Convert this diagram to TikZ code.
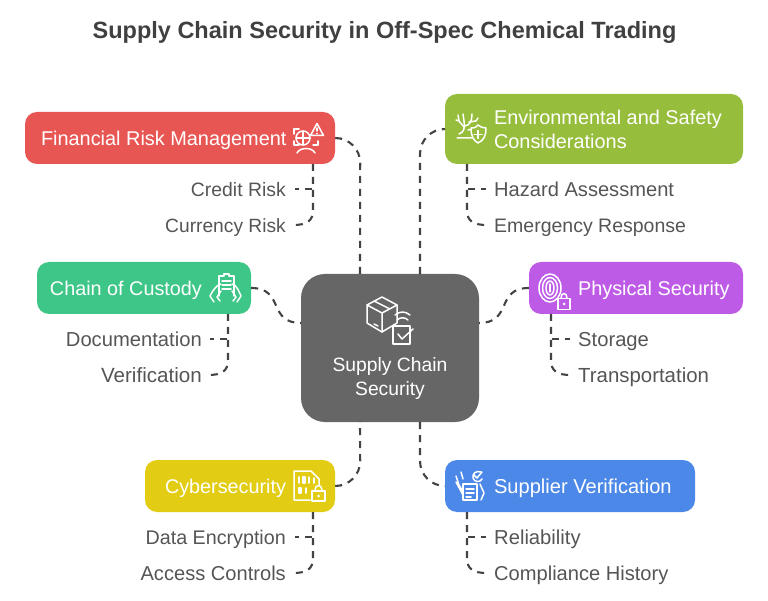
\documentclass[tikz,border=0pt]{standalone}
\usepackage{fontspec}
\setmainfont{Liberation Sans}
\definecolor{cred}{HTML}{E85654}
\definecolor{cgreen}{HTML}{96BD3B}
\definecolor{cteal}{HTML}{3DC687}
\definecolor{cpurple}{HTML}{BE5BE6}
\definecolor{cyellow}{HTML}{E2CD14}
\definecolor{cblue}{HTML}{4C88E8}
\definecolor{cgrey}{HTML}{666666}
\definecolor{ctext}{HTML}{555555}
\definecolor{cline}{HTML}{434343}
\newcommand{\fsz}[1]{\fontsize{#1}{24}\selectfont}
\tikzset{
  x=1pt,y=-1pt,
  boxnode/.style={draw=none,rounded corners=12pt,inner sep=0pt,text=white,text height=16pt,text depth=1pt},
  sublabel/.style={inner sep=0pt,text=ctext,text height=16pt,text depth=1pt},
  conn/.style={draw=cline,line width=2.1pt,dash pattern=on 7pt off 6pt},
  ico/.style={draw=white,line width=1.5pt,line cap=round,line join=round},
}
\begin{document}
\begin{tikzpicture}
\useasboundingbox (0,0) rectangle (768,601);
\node[inner sep=0pt,text=cline!95!black,font=\bfseries\fontsize{23.5}{28}\selectfont] (title) at (384.5,32) {Supply Chain Security in Off-Spec Chemical Trading};

% boxes
\node[boxnode,fill=cred,minimum width=310pt,minimum height=52pt,font=\fsz{19.9}] (fin) at (180,138) {\makebox[310pt][l]{\hspace{16pt}Financial Risk Management}};
\node[boxnode,fill=cgreen,minimum width=298pt,minimum height=70pt,font=\fsz{19.9}] (env) at (594,129) {\makebox[298pt][l]{\hspace{49pt}\raisebox{-12pt}[0pt][0pt]{\parbox[b]{245pt}{\raggedright\baselineskip=24pt Environmental and Safety\\Considerations}}}};
\node[boxnode,fill=cteal,minimum width=214pt,minimum height=52pt,font=\fsz{19.8}] (coc) at (144,288) {\makebox[214pt][l]{\hspace{13pt}Chain of Custody}};
\node[boxnode,fill=cpurple,minimum width=214pt,minimum height=52pt,font=\fsz{19.9}] (phy) at (636,288) {\makebox[214pt][l]{\hspace{49pt}Physical Security}};
\node[boxnode,fill=cyellow,minimum width=190pt,minimum height=52pt,font=\fsz{19.8}] (cyb) at (240,486) {\makebox[190pt][l]{\hspace{20pt}Cybersecurity}};
\node[boxnode,fill=cblue,minimum width=250pt,minimum height=52pt,font=\fsz{20.1}] (sup) at (570,486) {\makebox[250pt][l]{\hspace{49pt}Supplier Verification}};
\node[boxnode,fill=cgrey,rounded corners=24pt,minimum width=178pt,minimum height=148pt,text height=,text depth=,font=\fsz{19.3}] (hub) at (390,348) {\raisebox{-48pt}[0pt][0pt]{\parbox[b]{170pt}{\centering\baselineskip=24pt Supply Chain\hspace{2pt}\\Security\hspace{2pt}}}};

% sub labels
\node[sublabel,anchor=east,font=\fsz{19.4}] (a1) at (286,189) {Credit Risk};
\node[sublabel,anchor=east,font=\fsz{19.2}] (a2) at (286,225) {Currency Risk};
\node[sublabel,anchor=east,font=\fsz{20.2}] (b1) at (202,339) {Documentation};
\node[sublabel,anchor=east,font=\fsz{20.6}] (b2) at (202,375) {Verification};
\node[sublabel,anchor=east,font=\fsz{19.7}] (c1) at (286,537) {Data Encryption};
\node[sublabel,anchor=east,font=\fsz{20.1}] (c2) at (286,573) {Access Controls};
\node[sublabel,anchor=west,font=\fsz{20.1}] (d1) at (494,189) {Hazard Assessment};
\node[sublabel,anchor=west,font=\fsz{19.5}] (d2) at (494,225) {Emergency Response};
\node[sublabel,anchor=west,font=\fsz{20.2}] (e1) at (578,339) {Storage};
\node[sublabel,anchor=west,font=\fsz{20.4}] (e2) at (578,375) {Transportation};
\node[sublabel,anchor=west,font=\fsz{20.2}] (f1) at (494,537) {Reliability};
\node[sublabel,anchor=west,font=\fsz{20.1}] (f2) at (494,573) {Compliance History};

% main connectors
\coordinate (hubNW) at (360,274);
\coordinate (hubNE) at (420,274);
\coordinate (hubSW) at (360,422);
\coordinate (hubSE) at (420,422);
\coordinate (hubW) at (301,323);
\coordinate (hubE) at (479,323);
\draw[conn] (fin.east) arc[start angle=90,end angle=0,radius=25pt] -- (hubNW);
\draw[conn] (hubNE) -- (420,154) arc[start angle=180,end angle=90,radius=25pt] -- (env.west);
\draw[conn] (coc.east) .. controls (285,288) and (267,323) .. (hubW);
\draw[conn] (phy.west) .. controls (495,288) and (513,323) .. (hubE);
\draw[conn] (cyb.east) arc[start angle=-90,end angle=0,radius=25pt] -- (hubSW);
\draw[conn] (hubSE) -- (420,461) arc[start angle=180,end angle=270,radius=25pt] -- (sup.west);

% sub connectors
\coordinate (finS) at (313,164); \coordinate (envS) at (467,164);
\coordinate (cocS) at (228,314); \coordinate (phyS) at (551,314);
\coordinate (cybS) at (313,512); \coordinate (supS) at (467,512);
\draw[conn] (finS) |- (295,189);
\draw[conn] (finS) -- (313,210) .. controls (313,221) and (307,225) .. (293,225);
\draw[conn] (cocS) |- (210,339);
\draw[conn] (cocS) -- (228,360) .. controls (228,371) and (222,375) .. (208,375);
\draw[conn] (cybS) |- (295,537);
\draw[conn] (cybS) -- (313,558) .. controls (313,569) and (307,573) .. (293,573);
\draw[conn] (envS) |- (486,189);
\draw[conn] (envS) -- (467,210) .. controls (467,221) and (473,225) .. (487,225);
\draw[conn] (phyS) |- (570,339);
\draw[conn] (phyS) -- (551,360) .. controls (551,371) and (557,375) .. (571,375);
\draw[conn] (supS) |- (486,537);
\draw[conn] (supS) -- (467,558) .. controls (467,569) and (473,573) .. (487,573);

% icon: financial
\begin{scope}
\draw[ico] (294,134) -- (294,129) -- (299,129) (313,145) -- (318,145) -- (318,141) (294,141) -- (294,145) -- (299,145);
\draw[ico] (303,138) circle[radius=7pt];
\draw[ico] (303,131) -- (303,145) (296,138) -- (310,138);
\draw[ico,fill=cred] (317,123.5) -- (323.5,135.5) -- (310.5,135.5) -- cycle;
\draw[ico] (317,128) -- (317,131) (317,133.4) -- (317,133.5);
\draw[ico] (297,153) .. controls (300,147) and (312,147) .. (315,153);
\end{scope}
% icon: environment
\begin{scope}
\draw[ico] (457,138) -- (472,138) (459,134) .. controls (464,132) and (465,129) .. (464,121);
\draw[ico] (464,127) -- (459,121) -- (458,115) (459,121) -- (456,120) (464,121) -- (463,114) (465,126) .. controls (470,125) and (472,121) .. (472,114) (469,122) -- (476,121) (476,121) -- (478,118) (468,130) -- (472,129);
\draw[ico,fill=cgreen] (471,128) .. controls (475,128) and (477,127) .. (478,125) .. controls (480,127) and (483,128) .. (486,128) .. controls (486,136) and (484,140) .. (478,143) .. controls (473,140) and (471,136) .. (471,128) -- cycle;
\draw[ico] (478,130.5) -- (478,138.5) (474,134.5) -- (482,134.5);
\end{scope}
% icon: custody
\begin{scope}
\draw[ico] (219,296) -- (219,276) -- (224,276) -- (224,274) -- (229,274) -- (229,276) -- (234,276) -- (234,296);
\draw[ico] (222,281) -- (231,281) (222,285) -- (231,285) (222,289) -- (231,289);
\draw[ico] (221,284) .. controls (216,285) and (212,292) .. (210,296) -- (214,302) (221,291) -- (217,297) -- (220,301);
\draw[ico] (232,284) .. controls (237,285) and (239,292) .. (241,296) -- (237,302) (232,291) -- (236,297) -- (233,301);
\end{scope}
% icon: physical
\begin{scope}
\draw[ico] (550,288) ellipse[x radius=11pt,y radius=14pt];
\draw[ico] (550,288) ellipse[x radius=7.5pt,y radius=10.5pt];
\draw[ico] (550,288) ellipse[x radius=4pt,y radius=7pt];
\draw[ico] (550,284) -- (550,292);
\draw[ico,fill=cpurple] (558,298.5) rectangle (570,309.5);
\draw[ico] (561,298) .. controls (561,292) and (567,292) .. (567,298);
\fill[white] (564,304) circle[radius=1.5pt];
\end{scope}
% icon: cyber
\begin{scope}
\draw[ico] (310,500) -- (294,500) -- (294,471) -- (311,471) -- (319,479) -- (319,485);
\draw[ico] (299,477) -- (299,483) (314,478) -- (314,483) (309,477) -- (309,483);
\draw[ico] (303,477) rectangle (305,483);
\draw[ico] (299,488) rectangle (301,493);
\draw[ico] (306,488) -- (306,493);
\draw[ico,fill=cyellow] (312,491) rectangle (325,501);
\draw[ico] (315,490) .. controls (315,484) and (322,484) .. (322,490);
\fill[white] (318.5,496) circle[radius=1.5pt];
\end{scope}
% icon: supplier
\begin{scope}
\draw[ico] (463,484) rectangle (477,500);
\draw[ico] (466,489) -- (474,489) (466,493) -- (474,493) (466,497) -- (471,497);
\draw[ico] (456,476) -- (459,485) -- (462,490) (461,472) -- (463,479) (456,482) -- (463,495);
\draw[ico] (480,484) -- (484,493) -- (481,500);
\draw[ico] (481,472) .. controls (476,470) and (472,474) .. (473,478) .. controls (474,482) and (480,483) .. (482,479);
\draw[ico] (474,475) -- (477,478) -- (482,472);
\end{scope}
% icon: hub
\begin{scope}
\draw[ico] (382,297) -- (397,305) -- (397,323) -- (382,332) -- (367,323) -- (367,305) -- cycle;
\draw[ico] (367,305) -- (382,313) -- (397,305) (382,313) -- (382,332) (374,301) -- (390,309) (374,324) -- (378,326);
\draw[ico,fill=cgrey] (393,344) -- (393,326) -- (410,326) -- (410,344) -- cycle;
\draw[ico] (398,334) -- (402,339) -- (413,329);
\draw[ico] (397,320) .. controls (400,317) and (405,317) .. (408,320);
\draw[ico] (395,315) .. controls (400,311) and (405,311) .. (410,315);
\end{scope}
\end{tikzpicture}
\end{document}
